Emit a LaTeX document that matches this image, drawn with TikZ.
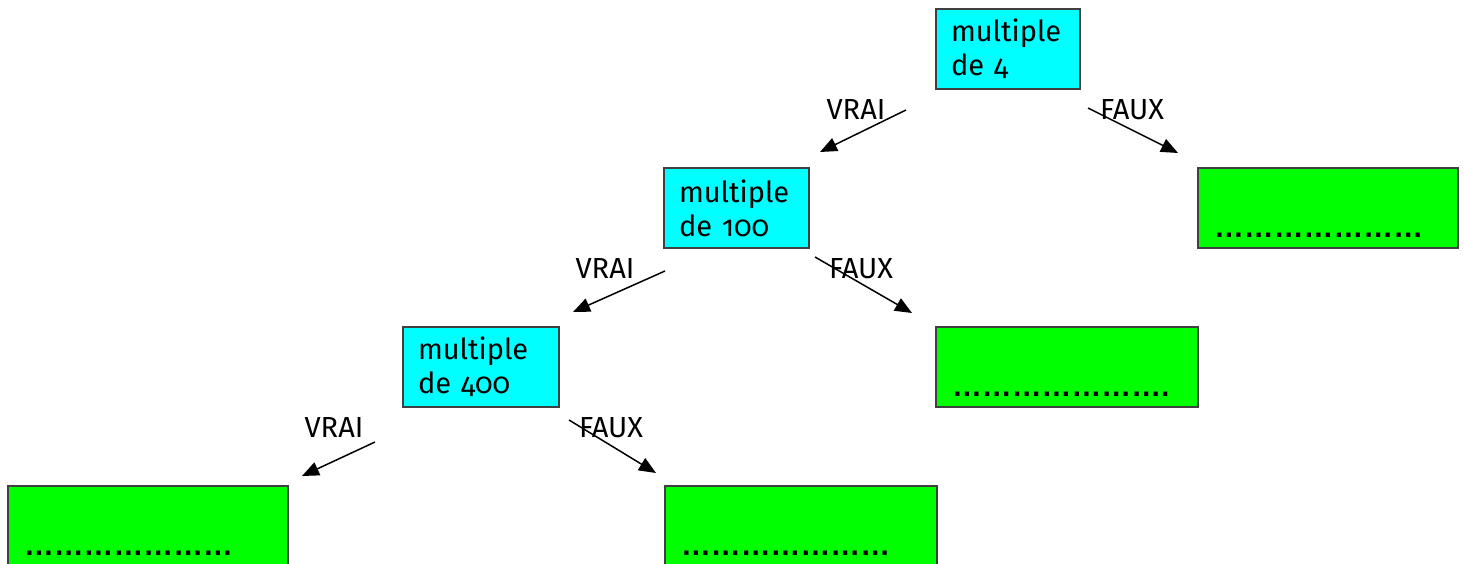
\documentclass[tikz,border=0pt]{standalone}
\usepackage{fontspec}
\setmainfont[Numbers=OldStyle]{Fira Sans}
\newfontfamily\dotsfont{Liberation Sans}
\usetikzlibrary{arrows.meta}
\definecolor{boxcyan}{RGB}{0,255,255}
\definecolor{boxgreen}{RGB}{0,255,0}
\tikzset{
  question/.style={draw=black!75, fill=boxcyan, minimum height=1.6cm, inner xsep=0.3cm,
    align=left, font=\fontsize{16.5}{19.5}\selectfont},
  answer/.style={draw=black!75, fill=boxgreen, inner ysep=0pt, inner xsep=0.32cm,
    text height=1.38cm, text depth=0.22cm, align=left, font=\dotsfont\bfseries\fontsize{17}{20}\selectfont},
  choice/.style={font=\fontsize{16.5}{19.5}\selectfont},
}
\begin{document}
\begin{tikzpicture}[-{Triangle[length=0.34cm,width=0.28cm]}, line width=0.85pt]
            \useasboundingbox (0,0) rectangle (29.28,-11.26);
            \node (q1) [question, minimum width=2.88cm, text width=2.28cm] at (20.16,-0.98) {multiple\\de 4};
            \node (q2) [question, minimum width=2.9cm, text width=2.3cm] at (14.73,-4.16) {multiple\\de 100};
            \node (q3) [question, minimum width=3.12cm, text width=2.52cm] at (9.62,-7.34) {multiple\\de 400};
            \node (r1) [answer, text width=4.56cm] at (26.56,-4.16) {…………………};
            \node (r2) [answer, text width=4.6cm] at (21.34,-7.34) {………………….};
            \node (r3) [answer, text width=4.96cm] at (2.96,-10.52) {…………………};
            \node (r4) [answer, text width=4.8cm] at (16.02,-10.52) {…………………};

            \node (v1) [choice] at (17.12,-2.2) {VRAI};
            \node (f1) [choice] at (22.64,-2.2) {FAUX};
            \node (v2) [choice] at (12.1,-5.38) {VRAI};
            \node (f2) [choice] at (17.22,-5.38) {FAUX};
            \node (v3) [choice] at (6.68,-8.56) {VRAI};
            \node (f3) [choice] at (12.22,-8.56) {FAUX};

            \coordinate (a1) at (18.12,-2.2);
            \coordinate (b1) at (16.4,-3.04);
            \coordinate (a2) at (21.76,-2.16);
            \coordinate (b2) at (23.56,-3.06);
            \coordinate (a3) at (13.3,-5.42);
            \coordinate (b3) at (11.46,-6.24);
            \coordinate (a4) at (16.3,-5.14);
            \coordinate (b4) at (18.24,-6.26);
            \coordinate (a5) at (7.5,-8.84);
            \coordinate (b5) at (6.04,-9.52);
            \coordinate (a6) at (11.38,-8.4);
            \coordinate (b6) at (13.12,-9.46);

            \path
            (a1) edge (b1)
            (a2) edge (b2)
            (a3) edge (b3)
            (a4) edge (b4)
            (a5) edge (b5)
            (a6) edge (b6);

        \end{tikzpicture}
\end{document}
